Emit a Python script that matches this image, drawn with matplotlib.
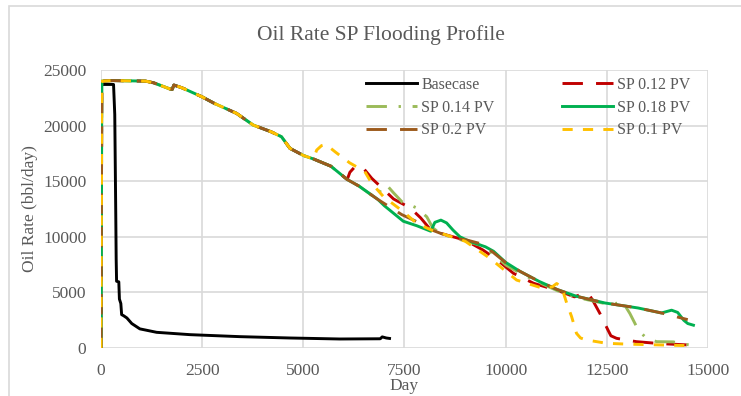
"""
plot.py - oil rate profile for SP flooding cases.
"""

import matplotlib.pyplot as plt
from matplotlib.patches import Rectangle

# Basecase (waterflood only)
base_day = [0, 15, 310, 340, 365, 375, 385, 440, 455, 490, 510, 560, 640, 760,
            960, 1375, 2200, 3435, 4670, 5900, 6900, 6950, 7050, 7130]
base_rate = [0, 23700, 23700, 21000, 12000, 8000, 6000, 5950, 4400, 4000, 3000,
             2900, 2700, 2200, 1720, 1410, 1200, 1020, 900, 810, 830, 1000, 900, 860]

# profile shared by all SP cases before the slug arrives
common_day = [0, 20, 300, 1100, 1300, 1700, 1760, 1800, 2000, 2490, 2800, 3350,
              3760, 4200, 4460, 4670, 5010, 5250]
common_rate = [0, 24000, 24050, 24000, 23850, 23300, 23250, 23650, 23400, 22600,
               22000, 21100, 20050, 19450, 19000, 17950, 17300, 17000]

# late decline shared after breakthrough
late_day = [8400, 8870, 9040, 9360, 9690, 10010, 10350, 10820, 11280, 11750]
late_rate = [10300, 9800, 9710, 9400, 8600, 7650, 6900, 6000, 5250, 4650]

sp02_day = common_day + [5680, 6085, 6380, 6845, 7430, 7780, 8150] + late_day + \
    [12450, 13270, 13850, 14500]
sp02_rate = common_rate + [16350, 15150, 14550, 13350, 12000, 11400, 10650] + late_rate + \
    [4050, 3600, 3150, 2550]

sp018_day = common_day + [5680, 6085, 6380, 6845, 7000, 7470, 7800, 8150, 8250, 8400,
                          8540, 8700, 8870, 9100, 9500, 9700, 10000, 10350, 10820,
                          11280, 11750, 12450, 13270, 13850, 14000, 14100, 14250,
                          14400, 14500, 14640]
sp018_rate = common_rate + [16350, 15150, 14550, 13350, 12800, 11400, 11000, 10500,
                            11300, 11500, 11250, 10600, 10000, 9600, 9100, 8700, 7700,
                            6900, 6000, 5250, 4650, 4050, 3600, 3150, 3300, 3400, 3200,
                            2500, 2200, 2050]

sp014_day = common_day + [5680, 6085, 6380, 6800, 6950, 7060, 7230, 7450, 7640, 7800,
                          8050, 8200] + late_day + \
    [12450, 12600, 12700, 12900, 13070, 13280, 13480, 13730, 14140, 14400, 14600]
sp014_rate = common_rate + [16350, 15150, 14550, 13450, 14500, 14650, 13950, 13100,
                            12850, 12600, 11800, 10800] + \
    [10250, 9750, 9600, 9250, 8450, 7450, 6750, 5900, 5150, 4550] + \
    [4000, 4150, 4000, 4100, 3100, 1600, 870, 570, 550, 350, 250]

sp012_day = common_day + [5680, 6085, 6150, 6250, 6380, 6500, 6690, 7000, 7230, 7640,
                          7900, 8130, 8400, 9000, 9440, 9800, 10190, 10690, 11300,
                          11700, 11920, 12050, 12150, 12330, 12450, 12530, 12600,
                          12740, 13230, 13800, 14640]
sp012_rate = common_rate + [16350, 15150, 15800, 16200, 16450, 16100, 15260, 14200,
                            13400, 12600, 11700, 10700, 10300, 9700, 8810, 7900, 6720,
                            5820, 5150, 4600, 4900, 4850, 4300, 3100, 2200, 1600, 1100,
                            870, 570, 400, 250]

sp01_day = common_day + [5330, 5450, 5560, 5800, 6145, 6280, 6520, 6690, 6980, 7470,
                         7800, 8170, 8500, 9000, 9610, 10270, 10920, 11150, 11260,
                         11380, 11510, 11630, 11750, 11850, 12000, 12500, 13000, 14640]
sp01_rate = common_rate + [17800, 18200, 18300, 17600, 16650, 16370, 15860, 14810,
                           13610, 12260, 11210, 10600, 10200, 9600, 8070, 6110, 5370,
                           5500, 5800, 5500, 4020, 2820, 1320, 900, 720, 420, 350, 200]

plt.rcParams['font.family'] = ['Liberation Serif', 'DejaVu Serif']
text_grey = '#595959'

fig = plt.figure(figsize=(7.41, 3.96), dpi=100)
ax = fig.add_axes([101 / 741, 1 - 348 / 396, 607 / 741, 278 / 396])

lw = 2.1
ax.plot(base_day, base_rate, color='black', lw=lw, label='Basecase')
ax.plot(sp012_day, sp012_rate, color='#C00000', lw=lw, dashes=(7, 4.5),
        label='SP 0.12 PV')
ax.plot(sp014_day, sp014_rate, color='#9BBB59', lw=lw, dashes=(7, 4, 0.8, 4),
        label='SP 0.14 PV')
ax.plot(sp018_day, sp018_rate, color='#00B050', lw=lw, label='SP 0.18 PV')
ax.plot(sp02_day, sp02_rate, color='#9C5A1C', lw=lw, dashes=(7, 4.5),
        label='SP 0.2 PV')
ax.plot(sp01_day, sp01_rate, color='#FFC000', lw=lw, dashes=(3.5, 3.5),
        label='SP 0.1 PV')

ax.set_xlim(0, 15000)
ax.set_ylim(0, 25000)
ax.set_xticks(range(0, 15001, 2500))
ax.set_yticks(range(0, 25001, 5000))
ax.grid(True, color='#d9d9d9', lw=1.2)
ax.set_axisbelow(True)
for s in ax.spines.values():
    s.set_visible(False)
ax.tick_params(length=0, labelsize=12.5, colors=text_grey)
ax.tick_params(axis='x', pad=11)
ax.tick_params(axis='y', pad=10.5)

ax.set_xlabel('Day', fontsize=12.5, color=text_grey, labelpad=-1)
ax.set_ylabel('Oil Rate (bbl/day)', fontsize=12.5, color=text_grey, labelpad=4)
fig.text(381 / 741, 1 - 35 / 396, 'Oil Rate SP Flooding Profile', ha='center',
         va='center', fontsize=15.5, color=text_grey)

h, l = ax.get_legend_handles_labels()
order = [0, 2, 4, 1, 3, 5]
leg = ax.legend([h[i] for i in order], [l[i] for i in order], ncol=2,
                loc='upper right', bbox_to_anchor=(0.994, 1.027), frameon=False,
                fontsize=11.5, handlelength=3.2, handletextpad=0.25,
                columnspacing=4.2, labelspacing=0.42)
for t in leg.get_texts():
    t.set_color(text_grey)

fig.patches.append(Rectangle((8.5 / 741, -0.05), 1.2, 1.05 - 5.7 / 396,
                             transform=fig.transFigure, fill=False,
                             edgecolor='#d9d9d9', lw=1.2))

fig.savefig('out.png', dpi=100)
